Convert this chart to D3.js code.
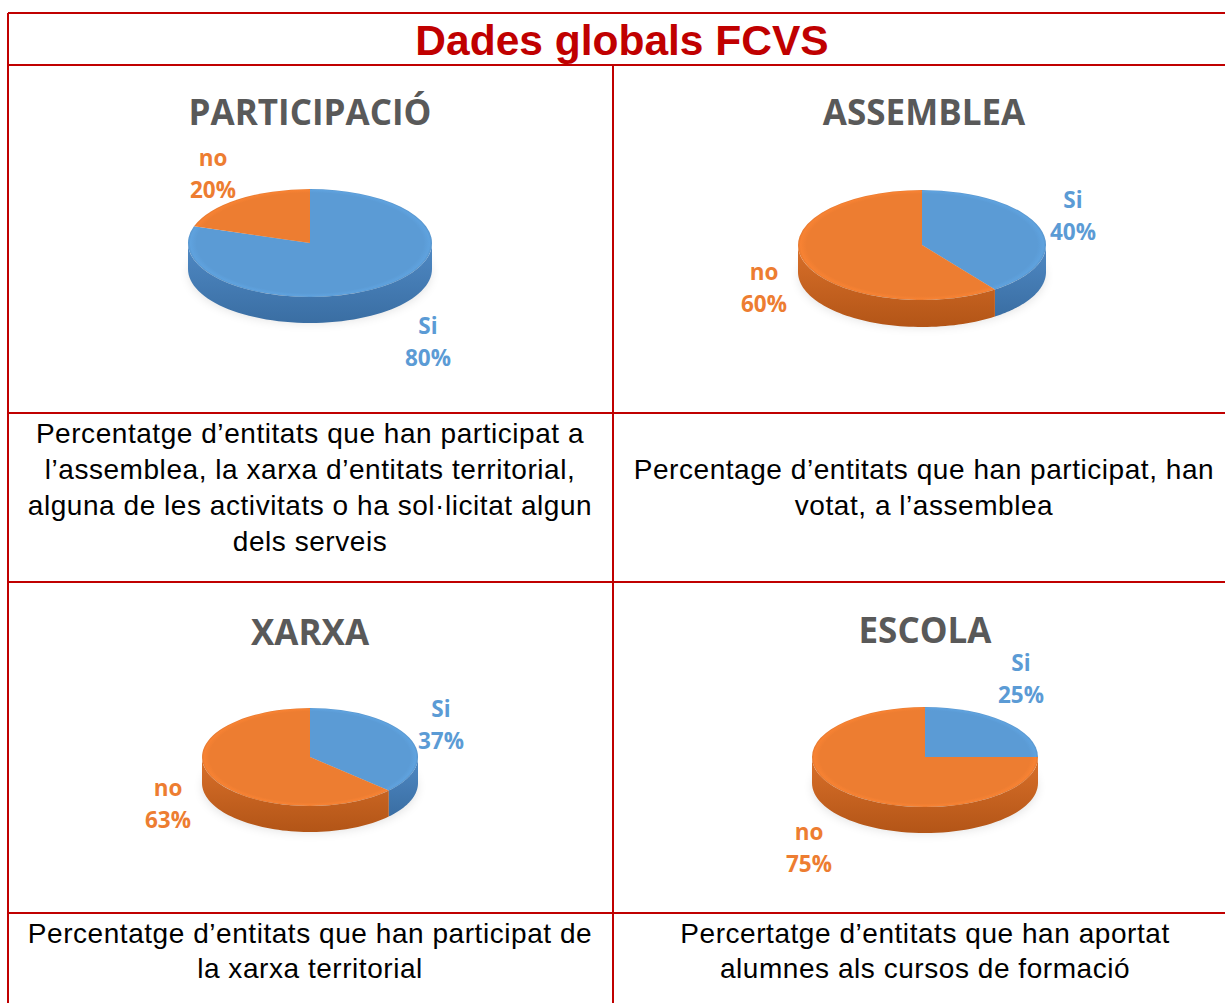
<!DOCTYPE html>
<html><head><meta charset="utf-8">
<script src="https://cdn.jsdelivr.net/npm/d3@7"></script>
<style>body{margin:0;background:#fff}svg{display:block}</style>
</head><body>
<svg id="c" width="1225" height="1003"></svg>
<script>
const mainTitle = "Dades globals FCVS";
const categories = ["Si", "no"];
const panelTitles = ["PARTICIPACIÓ", "ASSEMBLEA", "XARXA", "ESCOLA"];
const siValues = [80, 40, 37, 25];
const noValues = [20, 60, 63, 75];
const captions = [
  ["Percentatge d\u2019entitats que han participat a", "l\u2019assemblea, la xarxa d\u2019entitats territorial,", "alguna de les activitats o ha sol\u00b7licitat algun", "dels serveis"],
  ["Percentage d\u2019entitats que han participat, han", "votat, a l\u2019assemblea"],
  ["Percentatge d\u2019entitats que han participat de", "la xarxa territorial"],
  ["Percertatge d\u2019entitats que han aportat", "alumnes als cursos de formaci\u00f3"]
];

const svg = d3.select("#c");
const red = "#c00000";
const colors = {Si: "#5b9bd5", no: "#ed7d31"};
const sideDark = {Si: "#3a6ea3", no: "#b35517"};
const sideMid = {Si: "#4f89c4", no: "#d9702a"};

// grid geometry
const xL = 8, xM = 613, xR = 1227;
const rowsY = [13, 65, 413, 582, 913, 1010];

const defs = svg.append("defs");
const f = defs.append("filter").attr("id","blur").attr("x","-20%").attr("y","-50%").attr("width","140%").attr("height","200%");
f.append("feGaussianBlur").attr("stdDeviation", 6);
categories.forEach(c => {
  const g = defs.append("linearGradient").attr("id","side-"+c).attr("x1",0).attr("y1",0).attr("x2",0).attr("y2",1);
  g.append("stop").attr("offset","0%").attr("stop-color", sideMid[c]);
  g.append("stop").attr("offset","100%").attr("stop-color", sideDark[c]);
  const r = defs.append("radialGradient").attr("id","top-"+c).attr("gradientUnits","userSpaceOnUse")
    .attr("cx",0).attr("cy",0).attr("r",1);
  r.append("stop").attr("offset","0%").attr("stop-color", colors[c]);
  r.append("stop").attr("offset","93%").attr("stop-color", colors[c]);
  r.append("stop").attr("offset","98%").attr("stop-color", d3.color(colors[c]).brighter(0.12));
  r.append("stop").attr("offset","100%").attr("stop-color", d3.color(colors[c]).darker(0.1));
});

// panels
const panels = [
  {cx:310, cy:243, rx:122, ry:54, depth:26, titleY:113, labels:{Si:[428,326], no:[213,158]}, capCx:310, capY:[433,469,505,541]},
  {cx:922, cy:245, rx:124, ry:55, depth:27, titleY:113, labels:{Si:[1073,200], no:[764,272]}, capCx:924, capY:[469,505]},
  {cx:310, cy:757, rx:108, ry:49, depth:26, titleY:633, labels:{Si:[441,709], no:[168,788]}, capCx:310, capY:[933,968]},
  {cx:925, cy:757, rx:113, ry:50, depth:26, titleY:631, labels:{Si:[1021,663], no:[809,832]}, capCx:925, capY:[933,968]}
];
const titleX = [310, 924, 310, 925];

const pie = d3.pie().sort(null).value(d => d.v).startAngle(0).endAngle(2*Math.PI);

panels.forEach((p, i) => {
  const data = categories.map(c => ({c, v: c === "Si" ? siValues[i] : noValues[i]}));
  const arcs = pie(data);
  const g = svg.append("g");
  const pt = (a, dy=0) => [p.cx + p.rx*Math.sin(a), p.cy - p.ry*Math.cos(a) + dy];

  // shadow
  g.append("ellipse").attr("cx", p.cx).attr("cy", p.cy + p.depth + 4).attr("rx", p.rx*0.98).attr("ry", p.ry*0.9)
    .attr("fill", "#000").attr("opacity", 0.15).attr("filter","url(#blur)");

  // sides (front half: angles between pi/2 and 3pi/2)
  arcs.forEach(a => {
    const a0 = Math.max(a.startAngle, Math.PI/2), a1 = Math.min(a.endAngle, 3*Math.PI/2);
    if (a1 <= a0) return;
    const n = 60, top = [], bot = [];
    for (let k=0;k<=n;k++){ const t = a0 + (a1-a0)*k/n; top.push(pt(t)); bot.push(pt(t, p.depth)); }
    const poly = top.concat(bot.reverse());
    g.append("path").attr("d", d3.line()(poly) + "Z").attr("fill", "url(#side-"+a.data.c+")");
  });
  // tops
  const arcGen = d3.arc().innerRadius(0).outerRadius(1);
  arcs.forEach(a => {
    g.append("path").attr("d", arcGen(a))
      .attr("transform", `translate(${p.cx},${p.cy}) scale(${p.rx},${p.ry})`)
      .attr("fill", "url(#top-"+a.data.c+")");
  });
  // labels
  arcs.forEach(a => {
    const [lx, ly] = p.labels[a.data.c];
    const t = g.append("text").attr("text-anchor","middle").attr("font-family","'Open Sans', sans-serif")
      .attr("font-weight", 700).attr("font-size", 22.5).attr("fill", colors[a.data.c]);
    t.append("tspan").attr("x", lx).attr("y", ly).attr("dy","0.35em").text(a.data.c);
    t.append("tspan").attr("x", lx).attr("y", ly+32).attr("dy","0.35em").text(a.data.v + "%");
  });
  // panel title
  svg.append("text").attr("x", titleX[i]).attr("y", p.titleY).attr("dy","0.35em").attr("text-anchor","middle")
    .attr("font-family","'Open Sans', sans-serif").attr("font-weight",700).attr("font-size",35).attr("fill","#595959")
    .text(panelTitles[i]);
  // caption
  const ct = svg.append("text").attr("text-anchor","middle").attr("font-family","'Liberation Sans', Arial, sans-serif")
    .attr("font-size", 28).attr("letter-spacing", 0.55).attr("fill","#000");
  captions[i].forEach((line, k) => ct.append("tspan").attr("x", p.capCx).attr("y", p.capY[k]).attr("dy","0.35em").text(line));
});

// main title
svg.append("text").attr("x", 622).attr("y", 40).attr("dy","0.35em").attr("text-anchor","middle")
  .attr("font-family","'Liberation Sans', Arial, sans-serif").attr("font-weight",700).attr("font-size",42.5).attr("fill", red)
  .text(mainTitle);

// grid lines
const lines = svg.append("g").attr("stroke", red).attr("stroke-width", 2);
rowsY.slice(0,5).forEach(y => lines.append("line").attr("x1", xL).attr("x2", xR).attr("y1", y).attr("y2", y));
lines.append("line").attr("x1", xL).attr("x2", xL).attr("y1", rowsY[0]).attr("y2", rowsY[5]);
lines.append("line").attr("x1", xM).attr("x2", xM).attr("y1", rowsY[1]).attr("y2", rowsY[5]);
</script>
</body></html>
